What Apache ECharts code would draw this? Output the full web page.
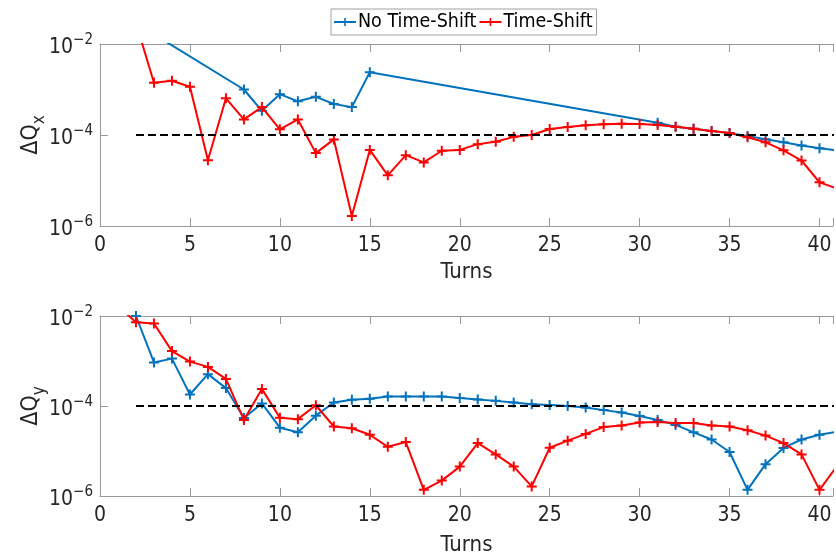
<!DOCTYPE html>
<html>
<head>
<meta charset="UTF-8">
<title>Tune error vs turns</title>
<script src="https://cdn.jsdelivr.net/npm/echarts@6/dist/echarts.min.js"></script>
<style>
  body { margin: 0; padding: 0; background: #fff; }
  #chart { width: 836px; height: 557px; }
</style>
</head>
<body>
<div id="chart"></div>
<script>
// ---- data ----
const seriesNames = ['No Time-Shift', 'Time-Shift'];
const yTicks = [1e-6, 1e-4, 1e-2];
const refLine = [[2, 1e-4], [41, 1e-4]];

// top panel: delta Q_x
const qxBlueTurns = [2, 8, 9, 10, 11, 12, 13, 14, 15, 31, 32, 33, 34, 35, 36, 37, 38, 39, 40, 41];
const qxBlueVals = [2.85e-2, 1.0e-3, 3.4e-4, 7.9e-4, 5.5e-4, 6.9e-4, 4.8e-4, 4.1e-4, 2.4e-3,
  1.85e-4, 1.52e-4, 1.37e-4, 1.23e-4, 1.1e-4, 9.5e-5, 8.1e-5, 6.9e-5, 5.9e-5, 5.1e-5, 4.6e-5];

const qxRedTurns = [2, 3, 4, 5, 6, 7, 8, 9, 10, 11, 12, 13, 14, 15, 16, 17, 18, 19, 20, 21,
  22, 23, 24, 25, 26, 27, 28, 29, 30, 31, 32, 33, 34, 35, 36, 37, 38, 39, 40, 41];
const qxRedVals = [2.9e-2, 1.41e-3, 1.56e-3, 1.15e-3, 2.8e-5, 6.4e-4, 2.2e-4, 4.1e-4, 1.33e-4, 2.2e-4,
  4.0e-5, 8.0e-5, 1.66e-6, 4.7e-5, 1.3e-5, 3.6e-5, 2.5e-5, 4.5e-5, 4.7e-5, 6.3e-5,
  7.1e-5, 9.1e-5, 1.0e-4, 1.35e-4, 1.5e-4, 1.63e-4, 1.72e-4, 1.77e-4, 1.74e-4, 1.66e-4,
  1.52e-4, 1.37e-4, 1.23e-4, 1.1e-4, 8.9e-5, 6.9e-5, 4.6e-5, 2.75e-5, 9.1e-6, 6.6e-6];

// bottom panel: delta Q_y
const qyBlueTurns = [2, 3, 4, 5, 6, 7, 8, 9, 10, 11, 12, 13, 14, 15, 16, 17, 18, 19, 20, 21,
  22, 23, 24, 25, 26, 27, 28, 29, 30, 31, 32, 33, 34, 35, 36, 37, 38, 39, 40, 41];
const qyBlueVals = [1.0e-2, 9.3e-4, 1.13e-3, 1.8e-4, 5.1e-4, 2.5e-4, 5.4e-5, 1.14e-4, 3.3e-5, 2.6e-5,
  6.1e-5, 1.2e-4, 1.38e-4, 1.45e-4, 1.63e-4, 1.63e-4, 1.63e-4, 1.63e-4, 1.5e-4, 1.4e-4,
  1.3e-4, 1.2e-4, 1.1e-4, 1.05e-4, 1.0e-4, 9.3e-5, 8.1e-5, 7.2e-5, 6.0e-5, 4.9e-5,
  3.8e-5, 2.6e-5, 1.8e-5, 9.5e-6, 1.37e-6, 5.1e-6, 1.17e-5, 1.8e-5, 2.3e-5, 2.7e-5];

const qyRedTurns = [1, 2, 3, 4, 5, 6, 7, 8, 9, 10, 11, 12, 13, 14, 15, 16, 17, 18, 19, 20, 21,
  22, 23, 24, 25, 26, 27, 28, 29, 30, 31, 32, 33, 34, 35, 36, 37, 38, 39, 40, 41];
const qyRedVals = [1.65e-2, 7.3e-3, 6.8e-3, 1.66e-3, 9.7e-4, 7.4e-4, 4.0e-4, 4.9e-5, 2.4e-4, 5.5e-5, 5.1e-5,
  1.04e-4, 3.5e-5, 3.2e-5, 2.3e-5, 1.24e-5, 1.58e-5, 1.37e-6, 2.2e-6, 4.5e-6, 1.5e-5,
  8.4e-6, 4.5e-6, 1.63e-6, 1.18e-5, 1.7e-5, 2.4e-5, 3.4e-5, 3.7e-5, 4.3e-5, 4.4e-5,
  4.2e-5, 4.2e-5, 3.7e-5, 3.5e-5, 2.9e-5, 2.2e-5, 1.5e-5, 8.4e-6, 1.37e-6, 4.8e-6];

// ---- chart ----
const FONT = "'DejaVu Sans Condensed', 'DejaVu Sans', sans-serif";
const AXIS_GRAY = '#9a9a9a';
const TEXT = '#262626';
const BLUE = '#0072BD';
const RED = '#FF0000';
const PLUS = 'path://M4,0 H6 V4 H10 V6 H6 V10 H4 V6 H0 V4 H4 Z';

const zip = (xs, ys) => xs.map((x, i) => [x, ys[i]]);

function bottomAxis(gridIndex, gap) {
  return {
    gridIndex: gridIndex,
    type: 'value',
    min: 0,
    max: 40.75,
    interval: 5,
    position: 'bottom',
    name: 'Turns',
    nameLocation: 'middle',
    nameGap: gap,
    nameMoveOverlap: false,
    nameTextStyle: { fontFamily: FONT, fontSize: 22, color: TEXT },
    axisLine: { show: true, lineStyle: { color: AXIS_GRAY, width: 1 } },
    axisTick: { show: true, inside: true, length: 8, lineStyle: { color: AXIS_GRAY } },
    axisLabel: {
      margin: 9,
      fontFamily: FONT, fontSize: 21, color: TEXT,
      formatter: v => (v % 5 === 0 ? String(v) : '')
    },
    splitLine: { show: false }
  };
}

function topAxis(gridIndex) {
  return {
    gridIndex: gridIndex,
    type: 'value',
    min: 0,
    max: 40.75,
    interval: 5,
    position: 'top',
    axisLine: { show: true, lineStyle: { color: AXIS_GRAY, width: 1 } },
    axisTick: { show: true, inside: true, length: 8, lineStyle: { color: AXIS_GRAY } },
    axisLabel: { show: false },
    splitLine: { show: false }
  };
}

function logAxis(gridIndex, sub) {
  return {
    gridIndex: gridIndex,
    type: 'log',
    logBase: 10,
    min: 1e-6,
    max: 1e-2,
    name: '{a|ΔQ}{s|' + sub + '}',
    nameLocation: 'middle',
    nameGap: 49,
    nameRotate: 90,
    nameMoveOverlap: false,
    nameTextStyle: {
      fontFamily: FONT,
      fontSize: 22,
      color: TEXT,
      rich: {
        a: { fontFamily: FONT, fontSize: 23, color: TEXT, padding: [0, 0, 8, 0] },
        s: { fontFamily: FONT, fontSize: 17, color: TEXT, padding: [8, 0, 0, 0] }
      }
    },
    axisLine: { show: true, lineStyle: { color: AXIS_GRAY, width: 1 } },
    axisTick: { show: true, inside: true, length: 8, lineStyle: { color: AXIS_GRAY }, customValues: yTicks },
    axisLabel: {
      margin: 7,
      customValues: yTicks,
      formatter: v => '{b|10}{s|\u2212' + Math.round(-Math.log10(v)) + '}',
      rich: {
        b: { fontFamily: FONT, fontSize: 21, color: TEXT, padding: [8, 0, 0, 0] },
        s: { fontFamily: FONT, fontSize: 15, color: TEXT, padding: [0, 0, 8, 0] }
      }
    },
    splitLine: { show: false }
  };
}

function dataLine(name, color, xIdx, yIdx, data) {
  return {
    name: name,
    type: 'line',
    xAxisIndex: xIdx,
    yAxisIndex: yIdx,
    data: data,
    symbol: PLUS,
    symbolSize: 10,
    showAllSymbol: true,
    lineStyle: { color: color, width: 2 },
    itemStyle: { color: color },
    emphasis: { disabled: true },
    animation: false,
    z: name === seriesNames[1] ? 3 : 2
  };
}

function dashLine(xIdx, yIdx) {
  return {
    type: 'line',
    xAxisIndex: xIdx,
    yAxisIndex: yIdx,
    data: refLine,
    symbol: 'none',
    lineStyle: { color: '#000', width: 2, type: [8, 4] },
    emphasis: { disabled: true },
    animation: false,
    z: 4
  };
}

const chart = echarts.init(document.getElementById('chart'), null, { renderer: 'canvas' });

chart.setOption({
  backgroundColor: '#fff',
  animation: false,
  legend: {
    data: seriesNames,
    left: 331,
    top: 9,
    orient: 'horizontal',
    itemGap: 2,
    itemWidth: 22,
    itemHeight: 10,
    padding: [3, 4, 3, 2],
    borderColor: '#a0a0a0',
    borderWidth: 1,
    textStyle: { fontFamily: FONT, fontSize: 19.5, color: '#000', padding: [0, 0, 0, -3] }
  },
  grid: [
    { left: 100, top: 44, right: 0, height: 182 },
    { left: 100, top: 316, right: 0, height: 183 }
  ],
  xAxis: [bottomAxis(0, 35), topAxis(0), bottomAxis(1, 38), topAxis(1)],
  yAxis: [logAxis(0, 'x'), logAxis(1, 'y')],
  series: [
    dataLine(seriesNames[0], BLUE, 0, 0, zip(qxBlueTurns, qxBlueVals)),
    dataLine(seriesNames[1], RED, 0, 0, zip(qxRedTurns, qxRedVals)),
    dashLine(0, 0),
    dataLine(seriesNames[0], BLUE, 2, 1, zip(qyBlueTurns, qyBlueVals)),
    dataLine(seriesNames[1], RED, 2, 1, zip(qyRedTurns, qyRedVals)),
    dashLine(2, 1)
  ]
});

window.addEventListener('resize', function () {
  chart.resize();
});
</script>
</body>
</html>
